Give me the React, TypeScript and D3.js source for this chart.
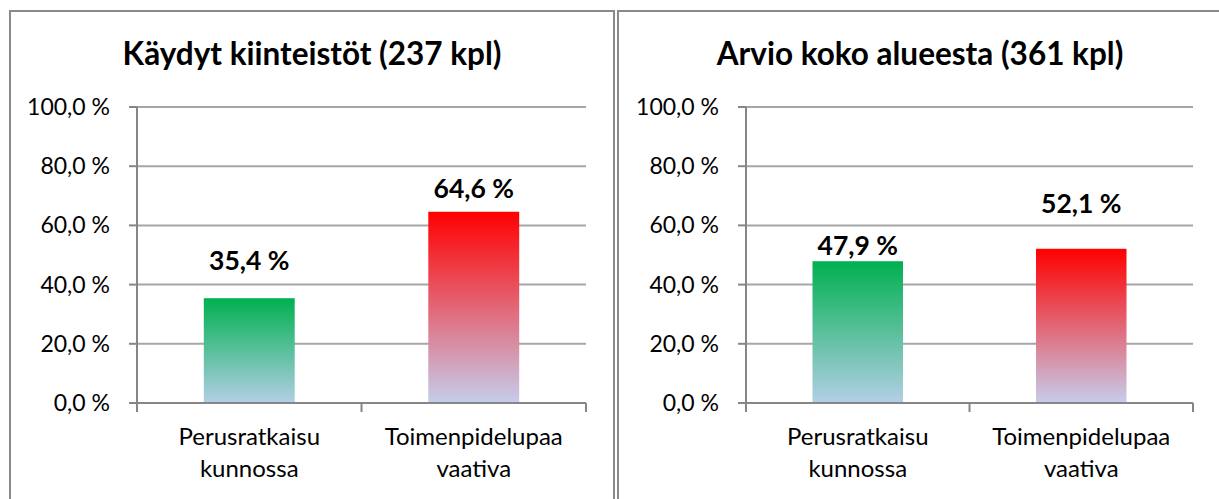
import React from "react";
import * as d3 from "d3";

const categories = ["Perusratkaisu\nkunnossa", "Toimenpidelupaa\nvaativa"];
const titles = ["Käydyt kiinteistöt (237 kpl)", "Arvio koko alueesta (361 kpl)"];
const visitedValues = [0.354, 0.646];
const estimateValues = [0.479, 0.521];
const yTicks = [0, 0.2, 0.4, 0.6, 0.8, 1.0];
const barColors = ["#00b050", "#ff0000"];
const barEndColors = ["#b3cfe6", "#c6cdec"];
// gap between bar top and data label baseline, as placed in the original
const visitedLabelGap = [28, 14];
const estimateLabelGap = [6, 36];

const width = 1219;
const height = 499;
const font = "Lato, 'Open Sans', sans-serif";
const fmt = (v: number) => (v * 100).toFixed(1).replace(".", ",") + " %";

const Panel = ({ x0, x1, axisX, plotRight, title, values, gaps, idx }) => {
  const y = d3.scaleLinear().domain([0, 1]).range([403, 107]);
  const xBand = d3.scaleBand().domain(categories).range([axisX, plotRight]).padding(0);
  const barW = xBand.bandwidth() * 0.405;
  const ticksX = [axisX, ...categories.map(c => xBand(c) + xBand.bandwidth())];

  return (
    <g>
      <rect x={x0} y={11} width={x1 - x0} height={height + 20} fill="white" stroke="#8a8a8a" strokeWidth={2} />
      <text x={(x0 + x1) / 2} y={65} textAnchor="middle" fontFamily={font} fontWeight="bold" fontSize={31.5} fill="#000">
        {title}
      </text>
      {yTicks.map(t => (
        <g key={t}>
          {t > 0 && (
            <line x1={axisX} x2={plotRight} y1={y(t)} y2={y(t)} stroke="#a6a6a6" strokeWidth={2} />
          )}
          <line x1={axisX - 8} x2={axisX} y1={y(t)} y2={y(t)} stroke="#868686" strokeWidth={2} />
          <text x={axisX - 27} y={y(t) + 8} textAnchor="end" fontFamily={font} fontSize={23} fill="#000">
            {fmt(t)}
          </text>
        </g>
      ))}
      {categories.map((c, i) => {
        const cx = xBand(c) + xBand.bandwidth() / 2;
        const gid = `grad-${idx}-${i}`;
        return (
          <g key={c}>
            <defs>
              <linearGradient id={gid} x1="0" y1="0" x2="0" y2="1">
                <stop offset="0%" stopColor={barColors[i]} />
                <stop offset="100%" stopColor={barEndColors[i]} />
              </linearGradient>
            </defs>
            <rect x={cx - barW / 2} y={y(values[i])} width={barW} height={y(0) - y(values[i])} fill={`url(#${gid})`} />
            <text x={cx} y={y(values[i]) - gaps[i]} textAnchor="middle" fontFamily={font} fontWeight="bold" fontSize={26.5} fill="#000">
              {fmt(values[i])}
            </text>
            {c.split("\n").map((line, j) => (
              <text key={j} x={cx} y={445 + j * 32} textAnchor="middle" fontFamily={font} fontSize={24} fill="#000">
                {line}
              </text>
            ))}
          </g>
        );
      })}
      <line x1={axisX} x2={axisX} y1={107} y2={403} stroke="#868686" strokeWidth={2} />
      <line x1={axisX} x2={plotRight} y1={403} y2={403} stroke="#868686" strokeWidth={2} />
      {ticksX.map((tx, i) => (
        <line key={i} x1={tx} x2={tx} y1={403} y2={412} stroke="#868686" strokeWidth={2} />
      ))}
    </g>
  );
};

export default function App() {
  return (
    <svg width={width} height={height} style={{ position: "absolute", left: 0, top: 0, background: "white" }}>
      <rect width={width} height={height} fill="white" />
      <Panel x0={10} x1={614} axisX={137} plotRight={586} title={titles[0]} values={visitedValues} gaps={visitedLabelGap} idx={0} />
      <Panel x0={618} x1={1222} axisX={746} plotRight={1193} title={titles[1]} values={estimateValues} gaps={estimateLabelGap} idx={1} />
    </svg>
  );
}
